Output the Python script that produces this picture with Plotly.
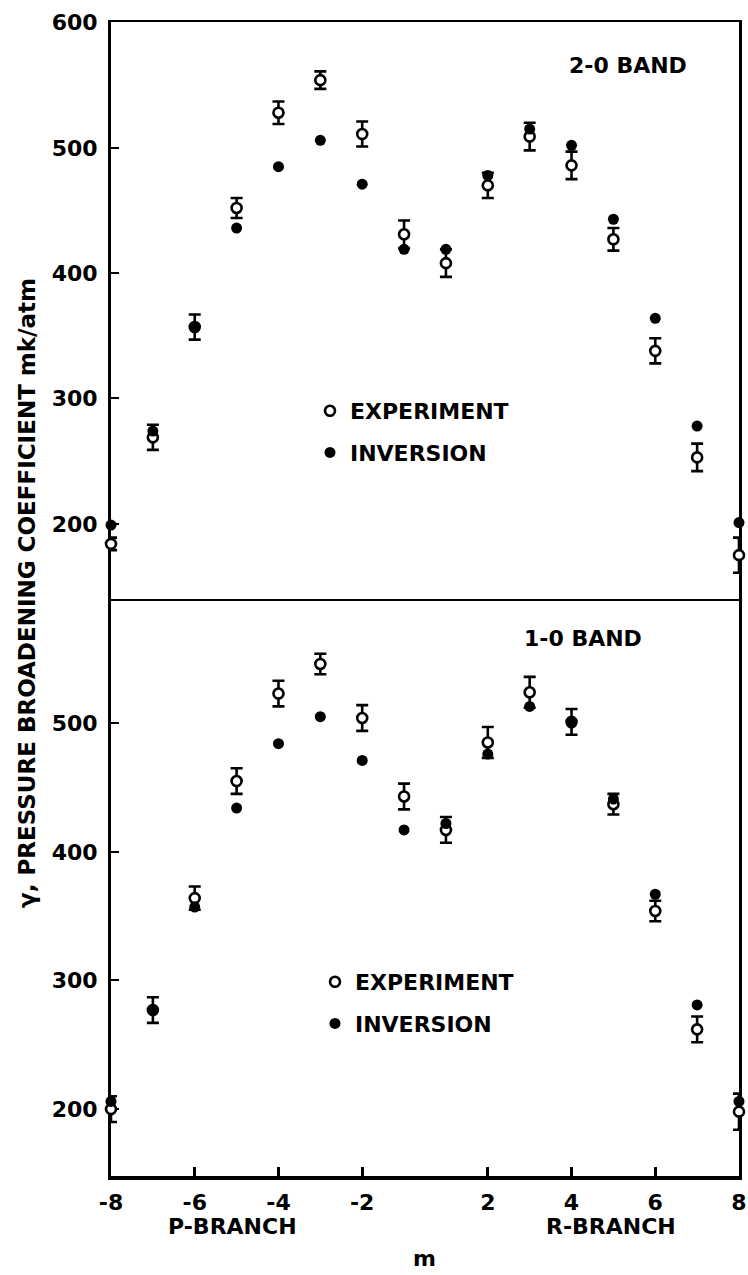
import plotly.graph_objects as go

# ---- data ----
m_values = [-8, -7, -6, -5, -4, -3, -2, -1, 1, 2, 3, 4, 5, 6, 7, 8]
m_labels = [str(v) for v in m_values]
tick_labels = ["-8", "-6", "-4", "-2", "2", "4", "6", "8"]

# 2-0 band (upper panel)
exp_20 = [184, 269, 357, 452, 528, 554, 511, 431, 408, 470, 509, 486, 427, 338, 253, 175]
err_20 = [5, 10, 10, 8, 9, 7, 10, 11, 11, 10, 11, 11, 9, 10, 11, 14]
inv_20 = [199, 274, 357, 436, 485, 506, 471, 419, 419, 478, 515, 502, 443, 364, 278, 201]

# 1-0 band (lower panel)
exp_10 = [200, 277, 364, 455, 523, 546, 504, 443, 417, 485, 524, 501, 437, 354, 262, 198]
err_10 = [10, 10, 9, 10, 10, 8, 10, 10, 10, 12, 12, 10, 8, 8, 10, 14]
inv_10 = [206, 277, 357, 434, 484, 505, 471, 417, 422, 476, 513, 500, 441, 367, 281, 206]

W, H = 748, 1275
ML, MR, MT, MB = 111, 9, 22, 99
PW = W - ML - MR
PH = H - MT - MB


def fx(p):
    return (p - ML) / PW


def fy(p):
    return (H - MB - p) / PH


FONT = dict(family="DejaVu Sans", size=22, color="black", weight="bold")

fig = go.Figure()

exp_marker = dict(symbol="circle", size=10, color="white", line=dict(color="black", width=2.6))
inv_marker = dict(symbol="circle", size=11, color="black", line=dict(color="black", width=0))
err_style = dict(type="data", visible=True, color="black", thickness=2.6, width=6)

# upper panel
fig.add_trace(go.Scatter(x=m_labels, y=exp_20, mode="markers", name="EXPERIMENT",
                         xaxis="x2", yaxis="y2", marker=exp_marker, cliponaxis=False,
                         error_y=dict(array=err_20, **err_style),
                         legend="legend", legendgroup="a"))
fig.add_trace(go.Scatter(x=m_labels, y=inv_20, mode="markers", name="INVERSION",
                         xaxis="x2", yaxis="y2", marker=inv_marker, cliponaxis=False,
                         legend="legend", legendgroup="b"))
# lower panel
fig.add_trace(go.Scatter(x=m_labels, y=exp_10, mode="markers", name="EXPERIMENT",
                         xaxis="x", yaxis="y", marker=exp_marker, cliponaxis=False,
                         error_y=dict(array=err_10, **err_style),
                         legend="legend2", legendgroup="c"))
fig.add_trace(go.Scatter(x=m_labels, y=inv_10, mode="markers", name="INVERSION",
                         xaxis="x", yaxis="y", marker=inv_marker, cliponaxis=False,
                         legend="legend2", legendgroup="d"))

split = 0.5

xcommon = dict(type="category", categoryorder="array", categoryarray=m_labels,
               range=[0, len(m_labels) - 1], showgrid=False, zeroline=False,
               layer="below traces", linecolor="black")

fig.update_layout(
    width=W, height=H,
    margin=dict(l=ML, r=MR, t=MT, b=MB, autoexpand=False),
    paper_bgcolor="white", plot_bgcolor="white",
    font=FONT,
    showlegend=True,
    xaxis=dict(**xcommon, anchor="y", domain=[0, 1], showline=True, linewidth=3.5,
               mirror=False, ticks="inside", ticklen=9, tickwidth=2.5, tickcolor="black",
               tickvals=tick_labels, ticktext=tick_labels, ticklabelstandoff=4,
               tickfont=FONT),
    xaxis2=dict(**xcommon, anchor="y2", matches="x", showline=True, linewidth=2.2,
                mirror=True, ticks="", showticklabels=False),
    yaxis=dict(domain=[0, split], range=[148, 596.5], anchor="x", showgrid=False,
               zeroline=False, showline=True, linewidth=3, mirror=True,
               linecolor="black", layer="below traces", ticks="inside", ticklen=8,
               tickwidth=2, tickcolor="black", tickvals=[200, 300, 400, 500],
               ticklabelstandoff=6, tickfont=FONT),
    yaxis2=dict(domain=[split, 1], range=[140, 600.4], anchor="x2", showgrid=False,
                zeroline=False, showline=True, linewidth=3, mirror=True,
                linecolor="black", layer="below traces", ticks="inside", ticklen=8,
                tickwidth=2, tickcolor="black", tickvals=[200, 300, 400, 500, 600],
                ticklabelstandoff=6, tickfont=FONT),
    legend=dict(x=fx(310), y=fy(432), xanchor="left", yanchor="middle",
                bgcolor="rgba(0,0,0,0)", borderwidth=0, font=FONT,
                traceorder="grouped", tracegroupgap=10, itemwidth=30),
    legend2=dict(x=fx(315), y=fy(1003), xanchor="left", yanchor="middle",
                 bgcolor="rgba(0,0,0,0)", borderwidth=0, font=FONT,
                 traceorder="grouped", tracegroupgap=10, itemwidth=30),
)

annots = [
    dict(text="2-0 BAND", x=fx(628), y=fy(65)),
    dict(text="1-0 BAND", x=fx(583), y=fy(639)),
    dict(text="P-BRANCH", x=fx(232), y=fy(1226)),
    dict(text="R-BRANCH", x=fx(611), y=fy(1226)),
    dict(text="m", x=fx(424), y=fy(1258)),
]
for a in annots:
    fig.add_annotation(xref="paper", yref="paper", showarrow=False,
                       xanchor="center", yanchor="middle", font=FONT, **a)

fig.add_annotation(xref="paper", yref="paper", showarrow=False,
                   text="γ, PRESSURE BROADENING COEFFICIENT mk/atm",
                   x=fx(27), y=fy(593), xanchor="center", yanchor="middle",
                   textangle=-90, font=dict(FONT, size=23))

fig.write_html(
    "out.html",
    config={"displayModeBar": False},
    post_script="document.body.style.margin='0';document.body.style.overflow='hidden';",
)
